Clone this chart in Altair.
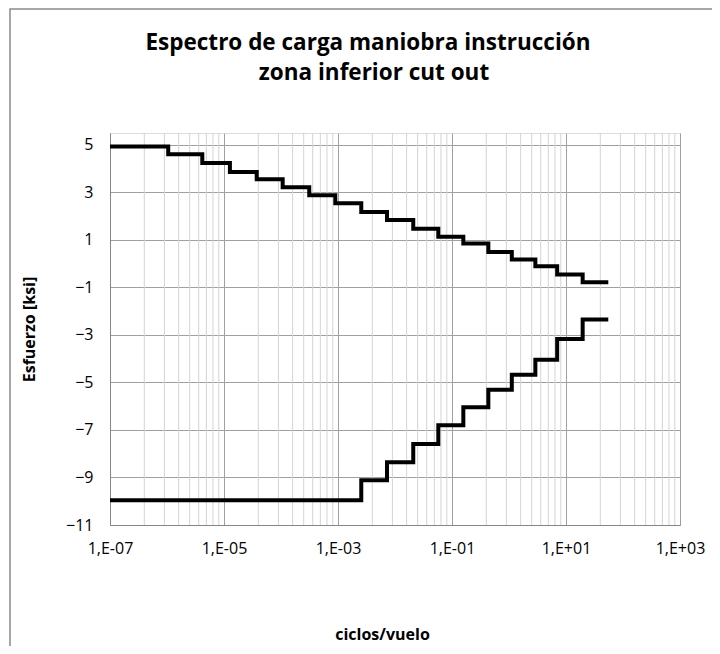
import altair as alt
import pandas as pd

# Upper envelope (step-after): cycles per flight and stress [ksi]
upper_x = [1e-7, 1.05e-6, 4.16e-6, 1.27e-5, 3.75e-5, 1.07e-4, 3.13e-4, 8.97e-4,
           2.56e-3, 7.24e-3, 2.09e-2, 5.75e-2, 0.158, 0.434, 1.12, 2.9, 7.0, 19.6, 55.2]
upper_y = [4.93, 4.61, 4.24, 3.86, 3.55, 3.22, 2.88, 2.54, 2.17, 1.84, 1.47, 1.13,
           0.85, 0.49, 0.18, -0.11, -0.46, -0.78, -0.78]

# Lower envelope
lower_x = [1e-7, 2.56e-3, 7.24e-3, 2.09e-2, 5.75e-2, 0.158, 0.434, 1.12, 2.9, 7.0, 19.6, 55.2]
lower_y = [-9.96, -9.12, -8.36, -7.59, -6.80, -6.04, -5.31, -4.68, -4.04, -3.17, -2.35, -2.35]

x_major = [1e-7, 1e-5, 1e-3, 1e-1, 1e1, 1e3]
y_ticks = [-11, -9, -7, -5, -3, -1, 1, 3, 5]
minor_k = [2, 3, 4, 5, 6, 7, 8, 9]
title_lines = ["Espectro de carga maniobra instrucción", "zona inferior cut out"]

rows = []
for i, (x, y) in enumerate(zip(upper_x, upper_y)):
    rows.append({"serie": "superior", "i": i, "ciclos": x, "esfuerzo": y})
for i, (x, y) in enumerate(zip(lower_x, lower_y)):
    rows.append({"serie": "inferior", "i": i, "ciclos": x, "esfuerzo": y})
df = pd.DataFrame(rows)

minor = pd.DataFrame({"v": [d * k * k for d in x_major[:-1] for k in minor_k]})

FONT = "Open Sans"
xscale = alt.Scale(type="log", domain=[1e-7, 1e3], nice=False)
yscale = alt.Scale(domain=[-11, 5.5], nice=False, zero=False)

frame = alt.Chart(pd.DataFrame({"a": [0]})).mark_rect(
    fillOpacity=0, stroke="#8a8a8a", strokeWidth=1.5
).encode(x=alt.value(-100), x2=alt.value(900), y=alt.value(-124), y2=alt.value(900))

title1 = alt.Chart(pd.DataFrame({"t": [title_lines[0]]})).mark_text(
    font=FONT, fontSize=22.5, fontWeight="bold", color="black", baseline="middle", align="center"
).encode(text="t:N", x=alt.value(258), y=alt.value(-90))

title2 = alt.Chart(pd.DataFrame({"t": [title_lines[1]]})).mark_text(
    font=FONT, fontSize=22.5, fontWeight="bold", color="black", baseline="middle", align="center"
).encode(text="t:N", x=alt.value(264), y=alt.value(-60))

minor_rules = alt.Chart(minor).mark_rule(color="#d4d4d4", strokeWidth=1).encode(
    x=alt.X("v:Q", scale=xscale)
)

lines = alt.Chart(df).mark_line(
    color="black", strokeWidth=4, interpolate="step-after", strokeJoin="miter"
).encode(
    x=alt.X(
        "ciclos:Q",
        scale=xscale,
        axis=alt.Axis(
            values=x_major,
            labelExpr="'1,E' + (round(log(datum.value)/LN10) >= 0 ? '+' : '-') + (abs(round(log(datum.value)/LN10)) < 10 ? '0' : '') + abs(round(log(datum.value)/LN10))",
            title="ciclos/vuelo",
            grid=True,
            gridColor="#a0a0a0",
            ticks=False,
            domainColor="#868686",
            labelPadding=15,
            labelFontSize=16,
            labelFont=FONT,
            labelColor="black",
            titleFont=FONT,
            titleFontSize=16,
            titleFontWeight="bold",
            titleColor="black",
            titlePadding=70,
            titleX=272,
            labelFlush=False,
        ),
    ),
    y=alt.Y(
        "esfuerzo:Q",
        scale=yscale,
        axis=alt.Axis(
            values=y_ticks,
            format="d",
            title="Esfuerzo [ksi]",
            grid=True,
            gridColor="#a0a0a0",
            ticks=False,
            domainColor="#868686",
            labelPadding=17,
            labelFontSize=16,
            labelFont=FONT,
            labelColor="black",
            titleFont=FONT,
            titleFontSize=16,
            titleFontWeight="bold",
            titleColor="black",
            titlePadding=28,
        ),
    ),
    detail="serie:N",
    order="i:Q",
)

chart = alt.layer(frame, minor_rules, lines, title1, title2).properties(
    width=570,
    height=392,
    autosize=alt.AutoSizeParams(type="none"),
    padding={"left": 102, "top": 125, "right": 32, "bottom": 121},
).configure_view(stroke=None).configure(background="white")

chart.save("out.html", embed_options={"renderer": "svg", "actions": False})
